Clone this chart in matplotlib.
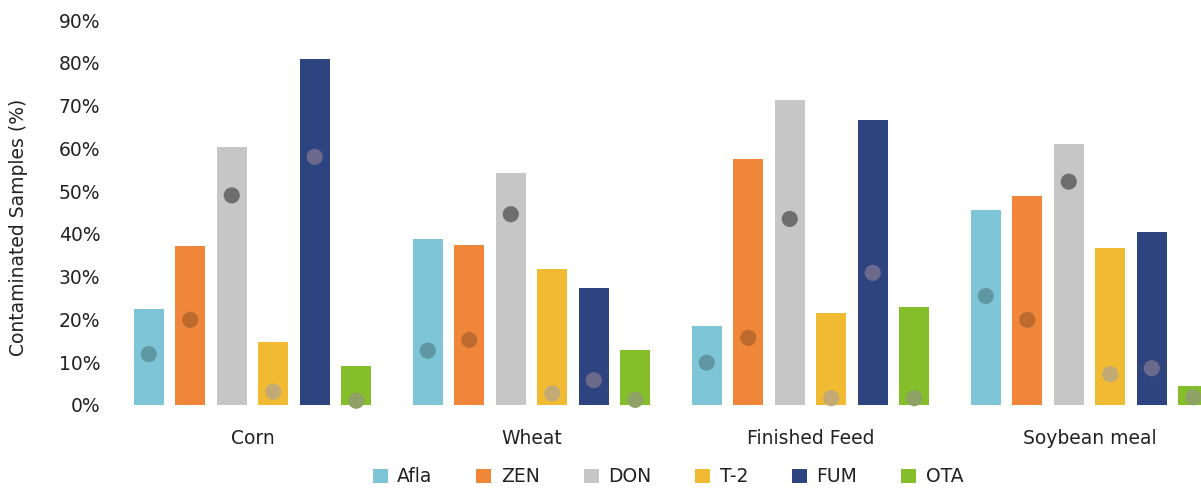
import numpy as np
import matplotlib
matplotlib.use("Agg")
import matplotlib.pyplot as plt
from matplotlib.patches import Patch
from matplotlib.ticker import PercentFormatter

# =============================================================================
# Data
# =============================================================================
categories = ["Corn", "Wheat", "Finished Feed", "Soybean meal"]
toxins = ["Afla", "ZEN", "DON", "T-2", "FUM", "OTA"]

# bar = share of contaminated samples (%), one list per toxin
afla = [22.4, 38.9, 18.5, 45.6]
zen = [37.2, 37.4, 57.6, 48.9]
don = [60.4, 54.3, 71.4, 60.9]
t2 = [14.8, 31.7, 21.6, 36.6]
fum = [80.8, 27.4, 66.6, 40.5]
ota = [9.1, 12.9, 23.0, 4.4]

# dot = second value drawn as a circle on each bar (%)
afla_dot = [11.9, 12.7, 9.9, 25.5]
zen_dot = [19.9, 15.2, 15.7, 19.9]
don_dot = [49.0, 44.6, 43.5, 52.2]
t2_dot = [3.1, 2.7, 1.6, 7.2]
fum_dot = [58.0, 5.8, 30.9, 8.6]
ota_dot = [1.0, 1.2, 1.6, 1.8]

bars = [afla, zen, don, t2, fum, ota]
dots = [afla_dot, zen_dot, don_dot, t2_dot, fum_dot, ota_dot]

# =============================================================================
# Style
# =============================================================================
bar_colors = ["#7DC5D7", "#F0863A", "#C6C6C6", "#F0BB33", "#2E4481", "#85BE2B"]
dot_colors = ["#5F97A3", "#BC6A2E", "#6E6E6E", "#C3AA74", "#6C6A8C", "#8FA266"]

plt.rcParams["font.family"] = ["DejaVu Sans"]
text_color = "#222222"

W, H = 1201, 492
fig = plt.figure(figsize=(W / 100, H / 100), dpi=100)

# plot area in pixels: left 113, right edge of figure, y from 20 (90%) to 405 (0%)
group_px = 279.0
left_px, bottom_px, top_px = 113, 405, 20
ax = fig.add_axes([left_px / W, 1 - bottom_px / H,
                   1 - left_px / W, (bottom_px - top_px) / H])

slot = 41.5 / group_px
width = 30.0 / group_px
x = np.arange(len(categories))

for j, (vals, dvals) in enumerate(zip(bars, dots)):
    xs = x + (j - 2.5) * slot
    ax.bar(xs, vals, width=width, color=bar_colors[j], zorder=2)
    ax.scatter(xs, dvals, s=135, color=dot_colors[j], edgecolors="none",
               zorder=3, clip_on=False)

ax.set_xlim(-0.5, -0.5 + (W - left_px) / group_px)
ax.set_ylim(0, 90)
ax.set_yticks(np.arange(0, 91, 10))
ax.yaxis.set_major_formatter(PercentFormatter(decimals=0))
ax.set_xticks(x)
ax.set_xticklabels(categories)

for s in ax.spines.values():
    s.set_visible(False)
ax.tick_params(axis="y", length=0, pad=9, labelsize=13.5, labelcolor=text_color)
ax.tick_params(axis="x", length=0, pad=17, labelsize=13.5, labelcolor=text_color)

ax.set_ylabel("Contaminated Samples (%)", fontsize=13.5, color=text_color)
ax.yaxis.set_label_coords((28 - left_px) / (W - left_px), 0.462)

handles = [Patch(facecolor=c, edgecolor="none") for c in bar_colors]
fig.legend(handles, toxins, loc="center", ncol=6, frameon=False,
           bbox_to_anchor=(668 / W, 1 - 477 / H), fontsize=13.5,
           handlelength=0.8, handleheight=0.8, handletextpad=0.5,
           columnspacing=2.35, labelcolor=text_color)

fig.savefig("out.png", dpi=100)
